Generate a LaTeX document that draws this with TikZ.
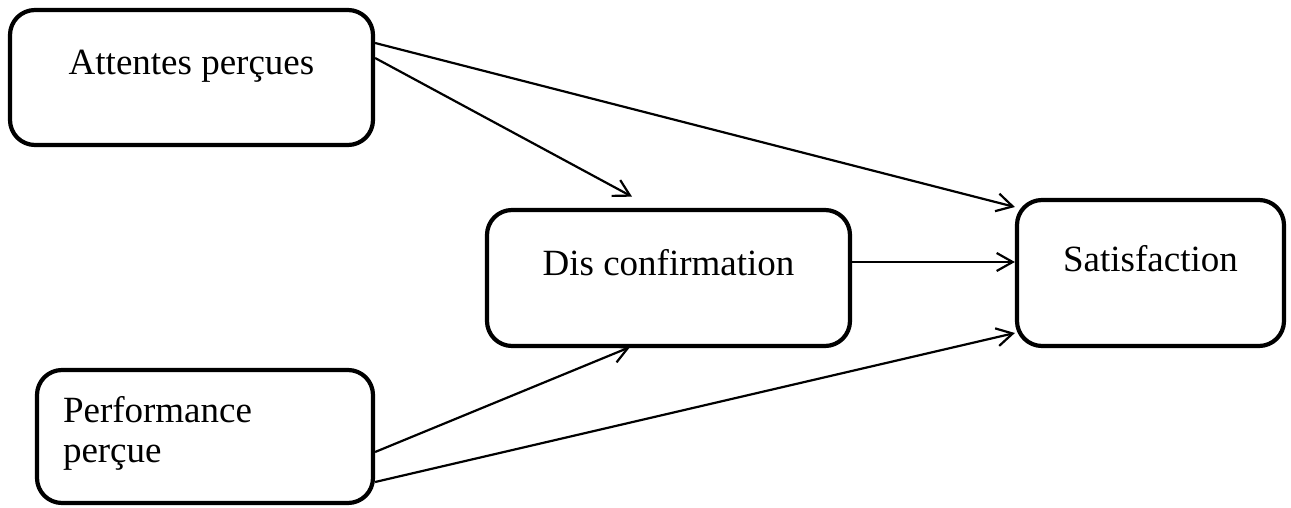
\documentclass[tikz,border=0pt]{standalone}
\usepackage{fontspec}
\setmainfont{Liberation Serif}
\usetikzlibrary{arrows.meta}
\tikzset{
  box/.style={draw, line width=4.2pt, rounded corners=25pt, inner sep=0pt,
    font=\fontsize{37}{40}\selectfont},
  arr/.style={line width=2.2pt, -{Straight Barb[length=16pt,width=18pt,line width=2.2pt]}}
}
\begin{document}
\begin{tikzpicture}[x=1pt,y=1pt]
\useasboundingbox (0,0) rectangle (1291,507);
\node[box, minimum width=363pt, minimum height=135pt, text height=26pt, text depth=31pt]
  (A) at (191.5,429.5) {Attentes perçues};
\node[box, minimum width=363pt, minimum height=136pt, text height=26pt, text depth=32pt]
  (D) at (668.5,229) {Dis confirmation};
\node[box, minimum width=267pt, minimum height=146pt, text height=26pt, text depth=30pt]
  (S) at (1150.5,234) {Satisfaction};
\node[box, minimum width=336pt, minimum height=133pt, text width=284pt, inner xsep=26pt,
  align=left, text height=26pt, text depth=55pt]
  (P) at (205,70.5) {Performance\\perçue};
\draw[arr] ([yshift=34.5pt]A.east) -- ([yshift=66pt]S.west);
\draw[arr] ([yshift=19.5pt]A.east) -- ([xshift=-36.5pt,yshift=11.25pt]D.north);
\draw[arr] ([yshift=16pt]D.east) -- ([yshift=11pt]S.west);
\draw[arr] ([yshift=-15.5pt]P.east) -- ([xshift=-38.5pt,yshift=1pt]D.south);
\draw[arr] ([yshift=-45.5pt]P.east) -- ([yshift=-60pt]S.west);
\end{tikzpicture}
\end{document}
